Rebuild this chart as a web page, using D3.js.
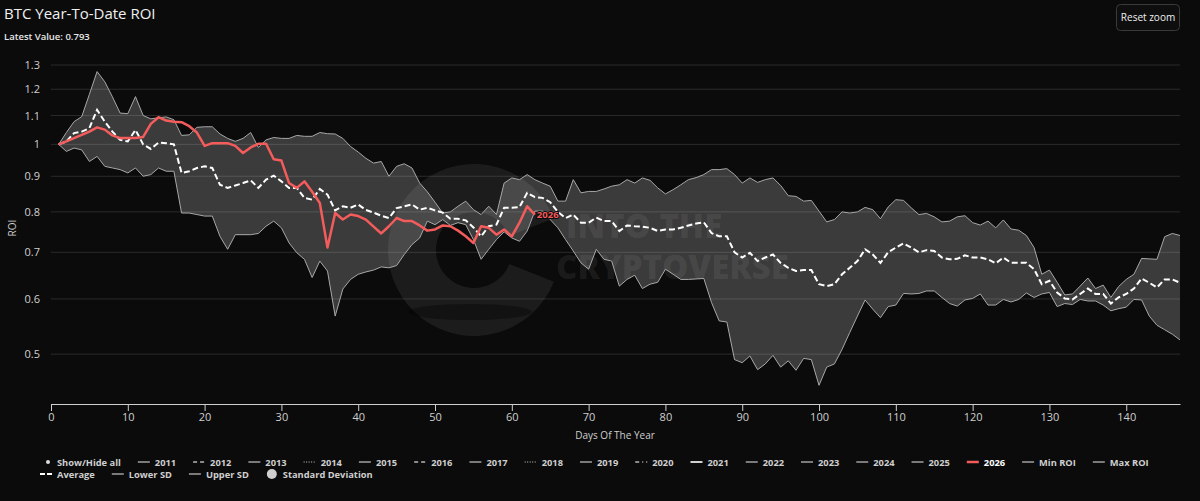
<!DOCTYPE html>
<html>
<head>
<meta charset="utf-8">
<script src="https://cdnjs.cloudflare.com/ajax/libs/d3/7.8.5/d3.min.js"></script>
<style>
  body { margin: 0; background: #0b0b0b; }
  svg { display: block; font-family: "Open Sans", "DejaVu Sans", sans-serif; }
</style>
</head>
<body>
<svg id="chart" width="1200" height="501"></svg>
<script>
// ROI relative to Jan 1, one value per day of the year (day 1 = first entry)
const avgRoi = [
  1.0, 1.01, 1.038, 1.043, 1.055, 1.121, 1.078, 1.043, 1.015, 1.01,
  1.049, 1.0, 0.985, 1.006, 1.004, 1.0, 0.91, 0.915, 0.925, 0.93,
  0.925, 0.875, 0.866, 0.873, 0.88, 0.888, 0.866, 0.89, 0.902, 0.885,
  0.866, 0.866, 0.838, 0.833, 0.863, 0.847, 0.804, 0.815, 0.811, 0.82,
  0.805, 0.798, 0.79, 0.784, 0.81, 0.815, 0.82, 0.806, 0.811, 0.804,
  0.798, 0.782, 0.782, 0.778, 0.76, 0.738, 0.763, 0.767, 0.811, 0.811,
  0.813, 0.852, 0.84, 0.838, 0.826, 0.8, 0.784, 0.793, 0.772, 0.772,
  0.785, 0.776, 0.776, 0.751, 0.765, 0.763, 0.762, 0.759, 0.751, 0.755,
  0.755, 0.759, 0.765, 0.77, 0.773, 0.746, 0.738, 0.738, 0.7, 0.688,
  0.699, 0.68, 0.688, 0.695, 0.676, 0.665, 0.658, 0.66, 0.66, 0.63,
  0.626, 0.63, 0.651, 0.665, 0.68, 0.707, 0.695, 0.676, 0.7, 0.711,
  0.721, 0.711, 0.7, 0.705, 0.703, 0.688, 0.684, 0.685, 0.693, 0.688,
  0.688, 0.684, 0.675, 0.688, 0.676, 0.676, 0.676, 0.662, 0.63, 0.637,
  0.613, 0.601, 0.599, 0.61, 0.621, 0.61, 0.61, 0.591, 0.603, 0.61,
  0.621, 0.642, 0.633, 0.623, 0.64, 0.64, 0.633
];

const upperSd = [
  1.0, 1.04, 1.078, 1.096, 1.18, 1.272, 1.23, 1.17, 1.109, 1.107,
  1.171, 1.1, 1.088, 1.092, 1.095, 1.085, 1.03, 1.032, 1.058, 1.06,
  1.06, 1.035, 1.02, 1.01, 1.02, 1.04, 0.99, 1.015, 1.023, 1.02,
  1.02, 1.03, 1.027, 1.027, 1.04, 1.036, 1.035, 1.02, 0.993, 0.975,
  0.955, 0.94, 0.945, 0.9, 0.93, 0.938, 0.925, 0.88, 0.855, 0.826,
  0.797, 0.8, 0.815, 0.829, 0.806, 0.793, 0.815, 0.793, 0.88, 0.895,
  0.89, 0.905, 0.89, 0.88, 0.871, 0.829, 0.829, 0.89, 0.852, 0.856,
  0.856, 0.863, 0.871, 0.875, 0.89, 0.88, 0.895, 0.888, 0.866, 0.849,
  0.861, 0.875, 0.89, 0.896, 0.905, 0.92, 0.92, 0.923, 0.905, 0.88,
  0.895, 0.882, 0.89, 0.895, 0.873, 0.844, 0.842, 0.829, 0.831, 0.802,
  0.774, 0.78, 0.8, 0.797, 0.8, 0.812, 0.806, 0.782, 0.813, 0.833,
  0.831, 0.811, 0.793, 0.796, 0.787, 0.774, 0.776, 0.787, 0.79, 0.772,
  0.766, 0.776, 0.759, 0.779, 0.756, 0.753, 0.74, 0.711, 0.651, 0.66,
  0.634, 0.608, 0.61, 0.626, 0.643, 0.621, 0.628, 0.603, 0.625, 0.64,
  0.651, 0.686, 0.685, 0.684, 0.737, 0.745, 0.74
];

const lowerSd = [
  1.0, 0.977, 0.988, 0.982, 0.945, 0.961, 0.93, 0.925, 0.92, 0.91,
  0.925, 0.9, 0.905, 0.925, 0.915, 0.915, 0.797, 0.797, 0.793, 0.789,
  0.789, 0.738, 0.707, 0.742, 0.742, 0.742, 0.745, 0.763, 0.776, 0.759,
  0.722, 0.699, 0.684, 0.644, 0.68, 0.658, 0.567, 0.62, 0.64, 0.651,
  0.656, 0.66, 0.667, 0.665, 0.67, 0.695, 0.718, 0.734, 0.776, 0.767,
  0.78, 0.765, 0.772, 0.767, 0.73, 0.684, 0.707, 0.73, 0.749, 0.734,
  0.726, 0.751, 0.802, 0.802, 0.78, 0.759, 0.73, 0.703, 0.676, 0.662,
  0.707, 0.684, 0.68, 0.626, 0.64, 0.649, 0.621, 0.63, 0.634, 0.662,
  0.651, 0.64, 0.64, 0.641, 0.642, 0.593, 0.558, 0.556, 0.491, 0.486,
  0.497, 0.475, 0.484, 0.498, 0.479, 0.489, 0.474, 0.493, 0.491, 0.451,
  0.479, 0.484, 0.508, 0.537, 0.567, 0.598, 0.58, 0.564, 0.585, 0.588,
  0.611, 0.61, 0.611, 0.616, 0.616, 0.603, 0.591, 0.586, 0.598, 0.601,
  0.61, 0.588, 0.588, 0.599, 0.594, 0.599, 0.612, 0.603, 0.61, 0.613,
  0.585, 0.591, 0.589, 0.599, 0.596, 0.596, 0.588, 0.577, 0.581, 0.584,
  0.599, 0.598, 0.567, 0.55, 0.542, 0.534, 0.524
];

const roi2026 = [
  1.0, 1.01, 1.021, 1.032, 1.043, 1.058, 1.05, 1.03, 1.021, 1.021,
  1.021, 1.025, 1.07, 1.094, 1.082, 1.078, 1.076, 1.062, 1.04, 0.995,
  1.004, 1.004, 1.004, 0.995, 0.972, 0.99, 1.002, 1.002, 0.952, 0.948,
  0.88, 0.866, 0.885, 0.855, 0.824, 0.711, 0.797, 0.78, 0.793, 0.789,
  0.78, 0.762, 0.745, 0.763, 0.784, 0.776, 0.776, 0.765, 0.752, 0.755,
  0.765, 0.763, 0.752, 0.738, 0.722, 0.763, 0.759, 0.742, 0.755, 0.738,
  0.772, 0.815, 0.793
];

const xTicks = [0, 10, 20, 30, 40, 50, 60, 70, 80, 90, 100, 110, 120, 130, 140];
const yTicks = [0.5, 0.6, 0.7, 0.8, 0.9, 1, 1.1, 1.2, 1.3];

const legendRow1 = ['Show/Hide all', '2011', '2012', '2013', '2014', '2015', '2016', '2017', '2018',
  '2019', '2020', '2021', '2022', '2023', '2024', '2025', '2026', 'Min ROI', 'Max ROI'];
const legendRow1Sym = ['bullet', 'solid', 'dash', 'solid', 'dot', 'solid', 'dash', 'solid', 'dot',
  'solid', 'dashdot', 'bright', 'solid', 'solid', 'solid', 'solid', 'red', 'solid', 'solid'];
const legendRow2 = ['Average', 'Lower SD', 'Upper SD', 'Standard Deviation'];
const legendRow2Sym = ['avg', 'solid', 'solid', 'circle'];

const RED = '#f45c5c';
const TXT = '#cfcfcf';

const svg = d3.select('#chart');
svg.append('rect').attr('width', 1200).attr('height', 501).attr('fill', '#0b0b0b');

const x = d3.scaleLinear().domain([0, 147]).range([51, 1180]);
const y = d3.scaleLog().domain([0.424, 1.3]).range([404, 65]);

const rows = avgRoi.map((v, i) => ({ day: i + 1, avg: v, lo: lowerSd[i], hi: upperSd[i] }));
const ytd = roi2026.map((v, i) => ({ day: i + 1, v }));

// grid
svg.append('g').selectAll('line')
  .data(yTicks)
  .join('line')
  .attr('x1', 51).attr('x2', 1180)
  .attr('y1', d => y(d)).attr('y2', d => y(d))
  .attr('stroke', '#2b2b2b').attr('stroke-width', 1);

// watermark
const wm = svg.append('g').attr('fill', 'rgba(255,255,255,0.07)');
wm.append('path')
  .attr('transform', 'translate(474,250)')
  .attr('d', d3.arc().innerRadius(38).outerRadius(86).startAngle(Math.PI * 0.62).endAngle(Math.PI * 2.38)());
wm.append('ellipse').attr('cx', 470).attr('cy', 312).attr('rx', 62).attr('ry', 8).attr('fill', 'rgba(0,0,0,0.35)');
wm.append('text').attr('x', 566).attr('y', 238).attr('font-size', 33).attr('font-weight', 800).text('INTO THE');
wm.append('text').attr('x', 556).attr('y', 279).attr('font-size', 33).attr('font-weight', 800).text('CRYPTOVERSE');

// standard deviation band
svg.append('path')
  .datum(rows)
  .attr('fill', 'rgba(255,255,255,0.2)')
  .attr('d', d3.area().x(d => x(d.day)).y0(d => y(d.lo)).y1(d => y(d.hi)));

const lineOf = key => d3.line().x(d => x(d.day)).y(d => y(d[key]));

svg.append('path').datum(rows).attr('fill', 'none')
  .attr('stroke', '#a8a8a8').attr('stroke-width', 1).attr('d', lineOf('lo'));
svg.append('path').datum(rows).attr('fill', 'none')
  .attr('stroke', '#a8a8a8').attr('stroke-width', 1).attr('d', lineOf('hi'));

svg.append('path').datum(rows).attr('fill', 'none')
  .attr('stroke', '#ffffff').attr('stroke-width', 2).attr('stroke-dasharray', '6,3')
  .attr('d', lineOf('avg'));

svg.append('path').datum(ytd).attr('fill', 'none')
  .attr('stroke', RED).attr('stroke-width', 2.5).attr('stroke-linejoin', 'round')
  .attr('d', lineOf('v'));

const last = ytd[ytd.length - 1];
svg.append('text')
  .attr('x', x(last.day) + 2).attr('y', y(last.v) + 3)
  .attr('font-size', 9.5).attr('font-weight', 700)
  .attr('fill', RED)
  .attr('stroke', '#0b0b0b').attr('stroke-width', 2).attr('paint-order', 'stroke')
  .text('2026');

// x axis
const xAxis = svg.append('g')
  .attr('transform', 'translate(0,404)')
  .call(d3.axisBottom(x).tickValues(xTicks).tickSize(7).tickSizeOuter(0).tickPadding(2));
xAxis.select('.domain').attr('stroke', '#cfcfcf');
xAxis.selectAll('.tick line').attr('stroke', '#cfcfcf');
xAxis.selectAll('.tick text').attr('fill', TXT).attr('font-size', 11)
  .attr('font-family', '"Open Sans", sans-serif');

svg.append('text').attr('x', 615).attr('y', 439).attr('text-anchor', 'middle')
  .attr('fill', TXT).attr('font-size', 10).text('Days Of The Year');

// y labels
svg.append('g').selectAll('text')
  .data(yTicks)
  .join('text')
  .attr('x', 40).attr('y', d => y(d) + 4)
  .attr('text-anchor', 'end').attr('fill', TXT).attr('font-size', 11)
  .text(d => d3.format('~g')(d));

svg.append('text').attr('transform', 'translate(16,228) rotate(-90)')
  .attr('text-anchor', 'middle').attr('fill', TXT).attr('font-size', 10).text('ROI');

// title
svg.append('text').attr('x', 4).attr('y', 19).attr('fill', '#f0f0f0').attr('font-size', 15)
  .text('BTC Year-To-Date ROI');
svg.append('text').attr('x', 4).attr('y', 40).attr('fill', '#e8e8e8').attr('font-size', 9.5)
  .attr('font-weight', 600).text('Latest Value: 0.793');

// reset zoom button
const btn = svg.append('g');
btn.append('rect').attr('x', 1116.5).attr('y', 4.5).attr('width', 63).attr('height', 26).attr('rx', 4)
  .attr('fill', '#0e0e0e').attr('stroke', '#3a3a3a');
btn.append('text').attr('x', 1148).attr('y', 21).attr('text-anchor', 'middle')
  .attr('fill', '#f0f0f0').attr('font-size', 10).text('Reset zoom');

// legend
function drawSymbol(g, kind, sx, cy) {
  const seg = (dash, color, w) => g.append('line')
    .attr('x1', sx).attr('x2', sx + 12).attr('y1', cy).attr('y2', cy)
    .attr('stroke', color).attr('stroke-width', w).attr('stroke-dasharray', dash);
  if (kind === 'bullet') g.append('circle').attr('cx', sx + 8).attr('cy', cy).attr('r', 2).attr('fill', '#ddd');
  else if (kind === 'circle') g.append('circle').attr('cx', sx + 6).attr('cy', cy).attr('r', 5).attr('fill', '#cfcfcf');
  else if (kind === 'dash') seg('4,3', '#8a8a8a', 2);
  else if (kind === 'dot') seg('1,1.5', '#8a8a8a', 1.5);
  else if (kind === 'dashdot') seg('4,3,1,3', '#8a8a8a', 2);
  else if (kind === 'bright') seg(null, '#d0d0d0', 2);
  else if (kind === 'red') seg(null, RED, 2.5);
  else if (kind === 'avg') seg('5,2', '#ffffff', 2);
  else seg(null, '#7a7a7a', 2);
}

function drawLegendRow(labels, syms, cy, startX) {
  const g = svg.append('g');
  let cx = startX;
  labels.forEach((label, i) => {
    drawSymbol(g, syms[i], cx, cy);
    const t = g.append('text').attr('x', cx + 17).attr('y', cy + 3.5)
      .attr('font-size', 9.3).attr('font-weight', 700)
      .attr('fill', label === '2026' ? '#ffffff' : TXT).text(label);
    cx += 17 + t.node().getComputedTextLength() + 17;
  });
}
drawLegendRow(legendRow1, legendRow1Sym, 462, 40);
drawLegendRow(legendRow2, legendRow2Sym, 474, 40);
</script>
</body>
</html>
